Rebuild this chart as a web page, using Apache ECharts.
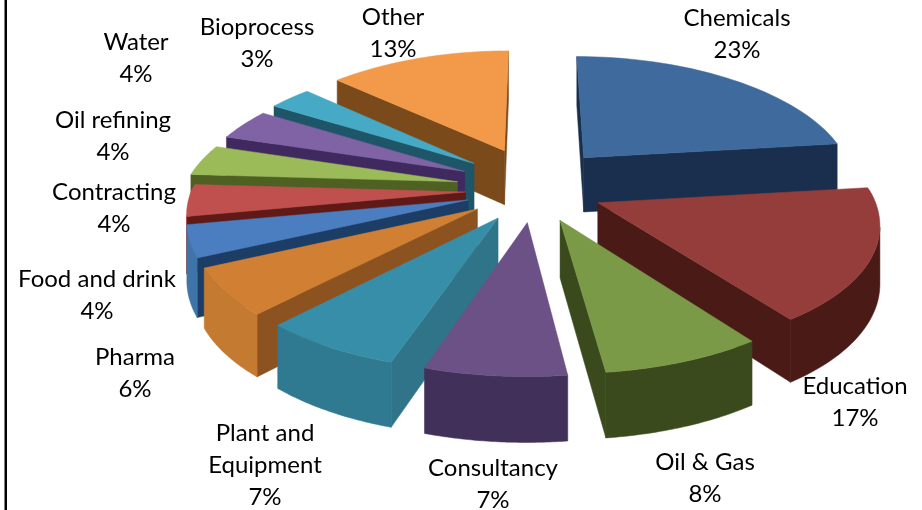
<!DOCTYPE html>
<html>
<head>
<meta charset="utf-8">
<title>Exploded pie</title>
<style>
  html, body { margin: 0; padding: 0; background: #fff; }
  #chart { width: 922px; height: 510px; }
</style>
<script src="https://cdn.jsdelivr.net/npm/echarts@6/dist/echarts.min.js"></script>
</head>
<body>
<div id="chart"></div>
<script>
// data, clockwise from the top
var sectors = ['Chemicals', 'Education', 'Oil & Gas', 'Consultancy', 'Plant and\nEquipment', 'Pharma',
  'Food and drink', 'Contracting', 'Oil refining', 'Water', 'Bioprocess', 'Other'];
var shares = [23, 17, 8, 7, 7, 6, 4, 4, 4, 4, 3, 13];

// colours
var topColors = ['#3f6a9e', '#953d3b', '#7a9a47', '#6b5186', '#378ea8', '#d07f33',
  '#4a7ec0', '#c0504d', '#9bbb59', '#7f63a5', '#46aac6', '#f3994a'];
var wallColors = ['#1a2f4e', '#4a1a17', '#3a4a1c', '#453358', '#2f7488', '#8c5220',
  '#1c3d66', '#5f1a18', '#4e6122', '#40295e', '#1f5568', '#7a4a1a'];
var rimColors = ['#1a2f4e', '#4a1a17', '#3a4a1c', '#40305a', '#2f7a90', '#c47a30',
  '#3f74a8', '#b04a47', '#8aa850', '#70589a', '#3d97b0', '#d88a40'];

// where the labels sit, centre of the text block
var labelSpots = [[737, 34], [855, 402], [705, 478], [493, 484], [265, 465], [135, 373],
  [97, 295], [114, 208], [113, 136], [136, 58], [257, 43], [393, 33]];

// fake 3D projection
var cx = 534, cy = 190, rx = 274, ry = 127;
var persp = 0.12, explode = 0.25, depth = 56;
var perspXBack = 0.18, perspXFront = 0.14;
var backLift = 1.4, backSquash = 0.94, backSpread = 1.15;

function project(X, Y, z) {
  var s = 1 / (1 + persp * Y);
  var sx = 1 / (1 + (Y > 0 ? perspXBack : perspXFront) * Y);
  return [cx + rx * X * sx, cy - ry * Y * s + z * depth * s];
}

var total = shares.reduce(function (a, b) { return a + b; }, 0);
var sliceData = [];
var run = 0;
shares.forEach(function (v, i) {
  var a0 = run / total * Math.PI * 2;
  run += v;
  var a1 = run / total * Math.PI * 2;
  sliceData.push([a0, a1, i]);
});
// paint from the back to the front
sliceData.sort(function (p, q) {
  return Math.cos((q[0] + q[1]) / 2) - Math.cos((p[0] + p[1]) / 2);
});

function renderSlice(params, api) {
  var a0 = api.value(0), a1 = api.value(1), idx = api.value(2);
  var mid = (a0 + a1) / 2;
  var ox = explode * Math.sin(mid), oy = explode * Math.cos(mid);
  if (oy > 0) {
    oy *= backLift;
    ox *= backSpread;
  }
  var n = 48;
  var rim = [];
  for (var k = 0; k <= n; k++) {
    var a = a0 + (a1 - a0) * k / n;
    var c = Math.cos(a);
    rim.push([ox + Math.sin(a), oy + (c > 0 ? c * backSquash : c)]);
  }
  var apex = [ox, oy];
  var first = rim[0], last = rim[n];
  var children = [];

  function wall(p, q) {
    var pa = project(p[0], p[1], 0), qa = project(q[0], q[1], 0);
    if (qa[0] - pa[0] >= 0) return; // faces away
    children.push({
      type: 'polygon',
      shape: { points: [pa, qa, project(q[0], q[1], 1), project(p[0], p[1], 1)] },
      style: { fill: wallColors[idx], stroke: wallColors[idx], lineWidth: 0.5 }
    });
  }
  wall(apex, first);
  wall(last, apex);

  // outer wall, only the part turned to the viewer
  var upper = [], lower = [];
  for (k = 0; k < n; k++) {
    var pa = project(rim[k][0], rim[k][1], 0), qa = project(rim[k + 1][0], rim[k + 1][1], 0);
    if (qa[0] - pa[0] < 0) {
      if (!upper.length) {
        upper.push(pa);
        lower.push(project(rim[k][0], rim[k][1], 1));
      }
      upper.push(qa);
      lower.push(project(rim[k + 1][0], rim[k + 1][1], 1));
    }
  }
  if (upper.length) {
    children.push({
      type: 'polygon',
      shape: { points: upper.concat(lower.reverse()) },
      style: { fill: rimColors[idx], stroke: rimColors[idx], lineWidth: 0.5 }
    });
  }

  var face = [project(apex[0], apex[1], 0)];
  rim.forEach(function (r) { face.push(project(r[0], r[1], 0)); });
  children.push({
    type: 'polygon',
    shape: { points: face },
    style: { fill: topColors[idx], stroke: topColors[idx], lineWidth: 0.5 }
  });
  return { type: 'group', children: children };
}

var graphics = [{
  type: 'rect',
  silent: true,
  shape: { x: 4.5, y: 0, width: 2.5, height: 510 },
  style: { fill: '#000' }
}];
sectors.forEach(function (name, i) {
  graphics.push({
    type: 'text',
    silent: true,
    x: labelSpots[i][0],
    y: labelSpots[i][1],
    style: {
      text: name + '\n' + shares[i] + '%',
      fill: '#000',
      font: '24px Lato',
      lineHeight: 32,
      align: 'center',
      verticalAlign: 'middle'
    }
  });
});

var chart = echarts.init(document.getElementById('chart'));
chart.setOption({
  animation: false,
  backgroundColor: '#fff',
  graphic: graphics,
  series: [{
    type: 'custom',
    coordinateSystem: 'none',
    silent: true,
    renderItem: renderSlice,
    data: sliceData
  }]
});
</script>
</body>
</html>
